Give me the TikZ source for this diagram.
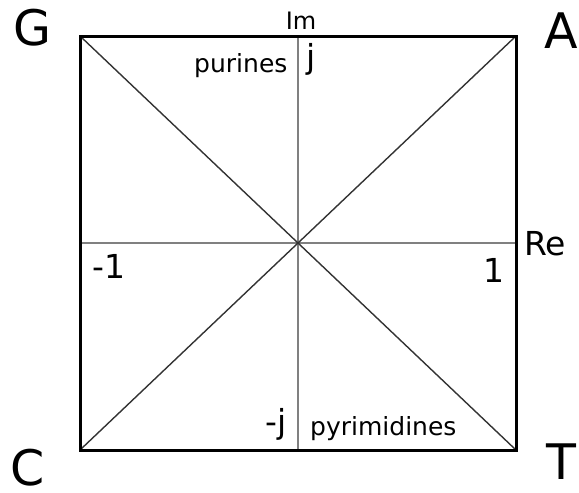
\documentclass[tikz,border=0pt]{standalone}
\usepackage{fontspec}
\setmainfont{DejaVu Sans}
\begin{document}
\begin{tikzpicture}[x=1pt,y=-1pt,
  frame/.style={line width=3pt,black},
  axis/.style={line width=2pt,black!50},
  diag/.style={line width=1.4pt,black!80},
  corner/.style={inner sep=0pt,anchor=base west,font=\fontsize{49}{49}\selectfont},
  lbl/.style={inner sep=0pt,anchor=base west,font=\fontsize{33}{33}\selectfont},
  word/.style={inner sep=0pt,anchor=base west,font=\fontsize{25}{25}\selectfont},
  small/.style={inner sep=0pt,anchor=base,font=\fontsize{24}{24}\selectfont}]
\useasboundingbox (0,0) rectangle (579,493);
\coordinate (g) at (80,36);
\coordinate (a) at (516,36);
\coordinate (t) at (516,450);
\coordinate (c) at (80,450);
\coordinate (o) at (298,243);
\coordinate (top) at (298,36);
\coordinate (bot) at (298,450);
\coordinate (lft) at (80,243);
\coordinate (rgt) at (516,243);
\draw[axis] (top) -- (bot);
\draw[axis] (lft) -- (rgt);
\draw[diag] (g) -- (t);
\draw[diag] (c) -- (a);
\draw[frame] (g) -- (a) -- (t) -- (c) -- cycle;
\node[corner] (G) at (13,45) {G};
\node[corner] (A) at (544,48) {A};
\node[corner] (C) at (10,485) {C};
\node[corner] (T) at (546,479) {T};
\node[small] (Im) at (301,29) {Im};
\node[lbl] (j) at (306,68) {j};
\node[word] (pur) at (194,72) {purines};
\node[lbl] (Re) at (524,255) {Re};
\node[lbl] (one) at (483,282) {1};
\node[lbl] (mone) at (92,278) {-1};
\node[lbl] (mj) at (265,433) {-j};
\node[word] (pyr) at (310,435) {pyrimidines};
\end{tikzpicture}
\end{document}
